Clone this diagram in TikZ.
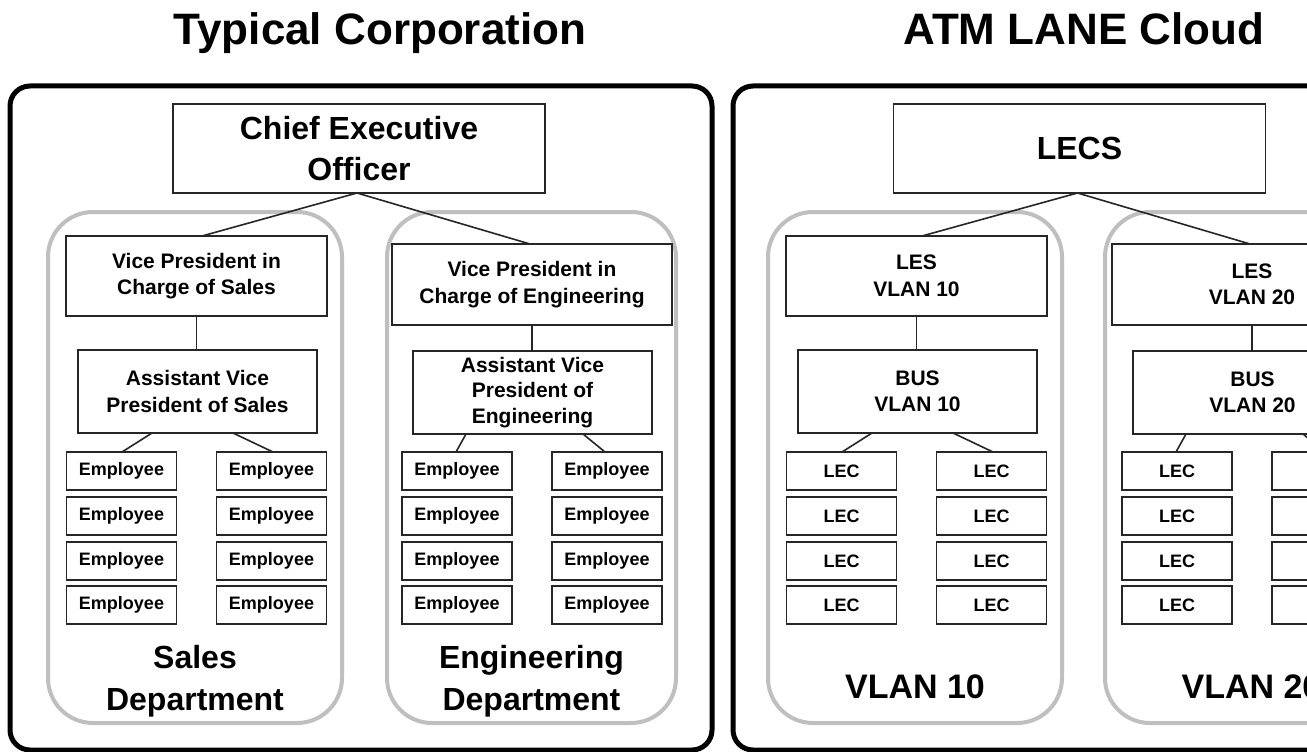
\documentclass[tikz,border=0pt]{standalone}
\usepackage{fontspec}
\setmainfont{Liberation Sans}
\begin{document}
\begin{tikzpicture}[x=1pt,y=-1pt]
\tikzset{
  frame/.style={draw=black, line width=5pt, rounded corners=20pt},
  dept/.style={draw=black!25, line width=4pt, rounded corners=45pt},
  box/.style={draw=black!85, line width=1.6pt, fill=white, inner sep=0pt, outer sep=0pt, align=center},
  conn/.style={draw=black!85, line width=1.6pt},
  ttl/.style={font=\fontsize{44}{50}\selectfont\bfseries, anchor=base},
  toptext/.style={font=\fontsize{32}{41}\selectfont\bfseries},
  midtext/.style={font=\fontsize{21}{26.5}\selectfont\bfseries},
  smalltext/.style={font=\fontsize{18}{20}\selectfont\bfseries},
  deptlbl/.style={font=\fontsize{32}{40}\selectfont\bfseries, anchor=base},
  vlanlbl/.style={font=\fontsize{34}{40}\selectfont\bfseries, anchor=base},
  topbox/.style={box, toptext, minimum width=372pt, minimum height=89pt},
  smallbox/.style={box, smalltext, minimum width=110pt, minimum height=38pt},
}
\useasboundingbox (0,0) rectangle (1307,752);
\clip (0,0) rectangle (1307,752);
\fill[white] (0,0) rectangle (1307,752);

% titles
\node[ttl] (t1) at (380,45) {Typical Corporation};
\node[ttl] (t2) at (1084,45) {ATM LANE Cloud};

% outer frames
\draw[frame] (10,86) rectangle (712,750);
\draw[frame] (733,86) rectangle (1340,750);

% department / vlan rounded areas
\draw[dept] (48,212) rectangle (342,723);
\draw[dept] (387,212) rectangle (676,723);
\draw[dept] (768,212) rectangle (1062,723);
\draw[dept] (1105,212) rectangle (1396,723);

% ---------- left: corporation ----------
\node[topbox] (ceo) at (359,148.5) {Chief Executive\\Officer};
\node[box, midtext, minimum width=261pt, minimum height=80pt] (vps) at (196.5,276) {Vice President in\\Charge of Sales};
\node[box, midtext, minimum width=280pt, minimum height=81pt] (vpe) at (532,284.5) {Vice President in\\Charge of Engineering};
\node[box, midtext, minimum width=239pt, minimum height=83pt] (avps) at (197.5,391.5) {Assistant Vice\\President of Sales};
\node[box, midtext, minimum width=239pt, minimum height=83pt, font=\fontsize{21}{25.5}\selectfont\bfseries] (avpe) at (532.5,392.5) {Assistant Vice\\President of\\Engineering};

\foreach \r/\y in {1/471,2/516,3/561,4/605}{
  \node[smallbox] (sa\r) at (121.5,\y) {Employee};
  \node[smallbox] (sb\r) at (271.5,\y) {Employee};
  \node[smallbox] (ea\r) at (457,\y) {Employee};
  \node[smallbox] (eb\r) at (607,\y) {Employee};
}

\draw[conn] ([xshift=-2pt]ceo.south) -- ([xshift=5.5pt]vps.north);
\draw[conn] ([xshift=-2pt]ceo.south) -- ([xshift=-2pt]vpe.north);
\draw[conn] (vps.south) -- (vps.south |- avps.north);
\draw[conn] (vpe.south) -- (vpe.south |- avpe.north);
\draw[conn] ([xshift=-45.5pt]avps.south) -- ([xshift=0.5pt]sa1.north);
\draw[conn] ([xshift=35.5pt]avps.south) -- ([xshift=1.5pt]sb1.north);
\draw[conn] ([xshift=-66.5pt]avpe.south) -- ([xshift=-1pt]ea1.north);
\draw[conn] ([xshift=50.5pt]avpe.south) -- ([xshift=-2pt]eb1.north);

\node[deptlbl] (sl1) at (195,668) {Sales};
\node[deptlbl] (sl2) at (195,710) {Department};
\node[deptlbl] (el1) at (531.5,668) {Engineering};
\node[deptlbl] (el2) at (531.5,710) {Department};

% ---------- right: ATM LANE cloud ----------
\node[topbox] (lecs) at (1079.5,148.5) {LECS};
\node[box, midtext, minimum width=261pt, minimum height=80pt] (les1) at (916.5,276) {LES\\VLAN 10};
\node[box, midtext, minimum width=280pt, minimum height=81pt] (les2) at (1252,284.5) {LES\\VLAN 20};
\node[box, midtext, minimum width=239pt, minimum height=83pt] (bus1) at (917.5,391.5) {BUS\\VLAN 10};
\node[box, midtext, minimum width=239pt, minimum height=83pt] (bus2) at (1252.5,392.5) {BUS\\VLAN 20};

\foreach \r/\y in {1/471,2/516,3/561,4/605}{
  \node[smallbox] (la\r) at (841.5,\y) {LEC};
  \node[smallbox] (lb\r) at (991.5,\y) {LEC};
  \node[smallbox] (lc\r) at (1177,\y) {LEC};
  \node[smallbox] (ld\r) at (1327,\y) {};
}

\draw[conn] ([xshift=-2pt]lecs.south) -- ([xshift=5.5pt]les1.north);
\draw[conn] ([xshift=-2pt]lecs.south) -- ([xshift=-2pt]les2.north);
\draw[conn] (les1.south) -- (les1.south |- bus1.north);
\draw[conn] (les2.south) -- (les2.south |- bus2.north);
\draw[conn] ([xshift=-45.5pt]bus1.south) -- ([xshift=0.5pt]la1.north);
\draw[conn] ([xshift=35.5pt]bus1.south) -- ([xshift=1.5pt]lb1.north);
\draw[conn] ([xshift=-66.5pt]bus2.south) -- ([xshift=-1pt]lc1.north);
\draw[conn] ([xshift=50.5pt]bus2.south) -- ([xshift=-2pt]ld1.north);

\node[vlanlbl] (v1) at (915,698) {VLAN 10};
\node[vlanlbl] (v2) at (1251.5,698) {VLAN 20};
\end{tikzpicture}
\end{document}
